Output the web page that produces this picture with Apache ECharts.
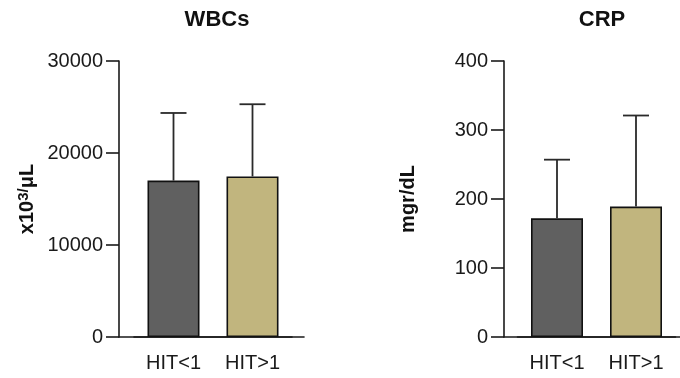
<!DOCTYPE html>
<html>
<head>
<meta charset="utf-8">
<script src="https://cdn.jsdelivr.net/npm/echarts@6/dist/echarts.min.js"></script>
<style>
  html, body { margin: 0; padding: 0; background: #fff; }
  #chart { width: 680px; height: 378px; }
</style>
</head>
<body>
<div id="chart"></div>
<script>
// groups on the x axis
const groups = ['HIT<1', 'HIT>1'];
const barColors = ['#606060', '#c1b57e'];

// WBCs panel: mean and upper SD
const wbcMean = [17000, 17450];
const wbcSd = [7350, 7850];
const wbcTicks = { min: 0, max: 30000, interval: 10000 };

// CRP panel: mean and upper SD
const crpMean = [172, 189];
const crpSd = [85, 132];
const crpTicks = { min: 0, max: 400, interval: 100 };

const FONT = '"Liberation Sans", Arial, sans-serif';

const chart = echarts.init(document.getElementById('chart'));

// grid 0/2 hold the bars, 1/3 only draw the longer x axis baseline
const grids = [
    { left: 134, width: 158, top: 61, bottom: 41 },
    { left: 119, width: 185, top: 61, bottom: 41 },
    { left: 517.5, width: 158, top: 61, bottom: 41 },
    { left: 504, width: 185, top: 61, bottom: 41 }
];

function catAxis(gridIndex) {
    return {
        type: 'category',
        gridIndex: gridIndex,
        data: groups,
        axisLine: { lineStyle: { color: '#1a1a1a', width: 1.6 } },
        axisTick: { alignWithLabel: true, length: 10, lineStyle: { color: '#1a1a1a', width: 1.6 } },
        axisLabel: { fontFamily: FONT, fontSize: 20, color: '#1a1a1a', margin: 16 }
    };
}

function baseAxis(gridIndex) {
    return {
        type: 'value',
        gridIndex: gridIndex,
        min: 0, max: 1,
        axisLine: { show: true, onZero: false, lineStyle: { color: '#1a1a1a', width: 1.6 } },
        axisTick: { show: false },
        axisLabel: { show: false },
        splitLine: { show: false }
    };
}

function valAxis(gridIndex, ticks, name, nameGap) {
    return {
        type: 'value',
        gridIndex: gridIndex,
        min: ticks.min,
        max: ticks.max,
        interval: ticks.interval,
        offset: gridIndex === 0 ? 15 : 13.5,
        name: name,
        nameLocation: 'middle',
        nameGap: nameGap,
        nameTextStyle: {
            fontFamily: FONT, fontSize: 20, fontWeight: 'bold', color: '#111',
            rich: {
                sup: { fontFamily: FONT, fontSize: 15, fontWeight: 'bold', color: '#111', verticalAlign: 'top', padding: [0, 0, 8, 0] },
                b: { fontFamily: FONT, fontSize: 20, fontWeight: 'bold', color: '#111' }
            }
        },
        axisLine: { show: true, lineStyle: { color: '#1a1a1a', width: 1.6 } },
        axisTick: { show: true, length: 13, lineStyle: { color: '#1a1a1a', width: 1.6 } },
        axisLabel: {
            fontFamily: FONT, fontSize: 20, color: '#1a1a1a', margin: 16,
            formatter: function (v) { return String(v); }
        },
        splitLine: { show: false }
    };
}

function barSeries(axisIndex, means) {
    return {
        type: 'bar',
        xAxisIndex: axisIndex,
        yAxisIndex: axisIndex,
        barWidth: 52,
        data: means.map(function (v, i) {
            return { value: v, itemStyle: { color: barColors[i] } };
        }),
        itemStyle: { borderColor: '#111', borderWidth: 1.6 },
        silent: true,
        z: 2
    };
}

function errSeries(axisIndex, means, sds) {
    return {
        type: 'custom',
        xAxisIndex: axisIndex,
        yAxisIndex: axisIndex,
        data: means.map(function (v, i) { return [i, v, v + sds[i]]; }),
        renderItem: function (params, api) {
            const base = api.coord([api.value(0), api.value(1)]);
            const top = api.coord([api.value(0), api.value(2)]);
            const half = 13;
            return {
                type: 'group',
                children: [
                    { type: 'line', shape: { x1: base[0], y1: base[1], x2: top[0], y2: top[1] },
                      style: { stroke: '#2a2a2a', lineWidth: 1.8 } },
                    { type: 'line', shape: { x1: top[0] - half, y1: top[1], x2: top[0] + half, y2: top[1] },
                      style: { stroke: '#2a2a2a', lineWidth: 1.8 } }
                ]
            };
        },
        silent: true,
        z: 3
    };
}

const option = {
    backgroundColor: '#fff',
    animation: false,
    title: [
        { text: 'WBCs', left: 212, top: 4, textAlign: 'center',
          textStyle: { fontFamily: FONT, fontSize: 22, fontWeight: 'bold', color: '#111' } },
        { text: 'CRP', left: 597, top: 4, textAlign: 'center',
          textStyle: { fontFamily: FONT, fontSize: 22, fontWeight: 'bold', color: '#111' } }
    ],
    grid: grids,
    xAxis: [
        catAxis(0),
        baseAxis(1),
        catAxis(2),
        baseAxis(3)
    ],
    yAxis: [
        valAxis(0, wbcTicks, 'x10{sup|3/}{b|μL}', 80),
        Object.assign(baseAxis(1), { axisLine: { show: false } }),
        valAxis(2, crpTicks, 'mgr/dL', 86),
        Object.assign(baseAxis(3), { axisLine: { show: false } })
    ],
    series: [
        barSeries(0, wbcMean),
        errSeries(0, wbcMean, wbcSd),
        barSeries(2, crpMean),
        errSeries(2, crpMean, crpSd)
    ]
};

chart.setOption(option);
</script>
</body>
</html>
